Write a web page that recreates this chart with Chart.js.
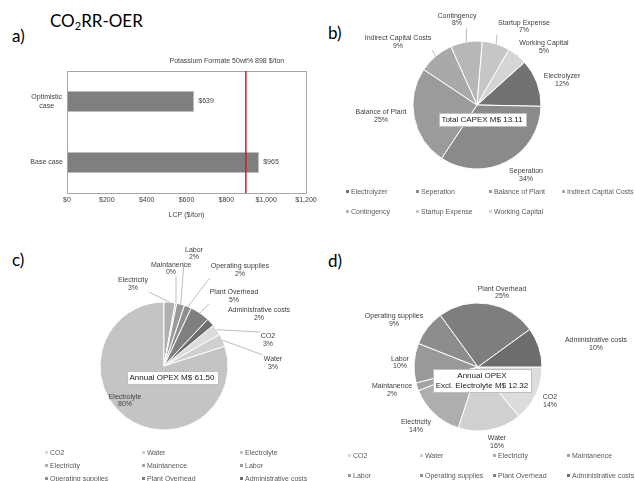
<!DOCTYPE html>
<html>
<head>
<meta charset="utf-8">
<script src="https://cdn.jsdelivr.net/npm/chart.js@4.4.1/dist/chart.umd.min.js"></script>
<style>
  html, body { margin: 0; padding: 0; background: #fff; }
  body { width: 635px; height: 481px; position: relative; overflow: hidden; font-family: 'Liberation Sans', Arial, sans-serif; }
  canvas { position: absolute; }
  .tag { position: absolute; font-family: Lato, 'Open Sans', sans-serif; font-size: 17px; color: #000; line-height: 1; white-space: nowrap; }
  .tag sub { font-size: 11px; vertical-align: -3px; line-height: 0; }
  .legend { position: absolute; font-size: 7px; line-height: 8px; color: #595959; white-space: nowrap; }
  .legend i { display: inline-block; width: 3px; height: 3px; margin-right: 2px; vertical-align: 1px; }
</style>
</head>
<body>
<div class="tag" style="left:50px;top:12px">CO<sub>2</sub>RR-OER</div>
<div class="tag" style="left:12px;top:27px">a)</div>
<div class="tag" style="left:328px;top:24px">b)</div>
<div class="tag" style="left:12px;top:251px">c)</div>
<div class="tag" style="left:328px;top:252px">d)</div>

<canvas id="lcpChart" width="320" height="180" style="left:0;top:45px"></canvas>
<canvas id="capexChart" width="315" height="230" style="left:320px;top:0"></canvas>
<canvas id="opexChart" width="320" height="251" style="left:0;top:230px"></canvas>
<canvas id="opexExclChart" width="315" height="251" style="left:320px;top:230px"></canvas>

<script>
// ---- data ----
const caseLabels = [['Optimistic', 'case'], 'Base case'];
const lcpValues = [639, 965];
const marketPrice = 898;
const marketLabel = 'Potassium Formate 50wt% 898 $/ton';

const capexLabels = ['Electrolyzer', 'Seperation', 'Balance of Plant', 'Indirect Capital Costs',
    'Contingency', 'Startup Expense', 'Working Capital'];
const capexShares = [12, 34, 25, 9, 8, 7, 5];
const capexTotal = 'Total CAPEX M$ 13.11';

const opexLabels = ['CO2', 'Water', 'Electrolyte', 'Electricity', 'Maintanence', 'Labor',
    'Operating supplies', 'Plant Overhead', 'Administrative costs'];
const opexShares = [2.8, 3.2, 80, 2.8, 0.4, 2.0, 1.8, 5.0, 2.0];
const opexTotal = 'Annual OPEX M$ 61.50';

const opexExclLabels = ['CO2', 'Water', 'Electricity', 'Maintanence', 'Labor',
    'Operating supplies', 'Plant Overhead', 'Administrative costs'];
const opexExclShares = [14, 16, 14, 2, 10, 9, 25, 10];
const opexExclTotal = ['Annual OPEX', 'Excl. Electrolyte M$ 12.32'];

// ---- styles ----
const capexColors = ['#727272', '#8a8a8a', '#9b9b9b', '#a9a9a9', '#b7b7b7', '#c6c6c6', '#d5d5d5'];
const opexColors = ['#dcdcdc', '#d0d0d0', '#c4c4c4', '#b0b0b0', '#a5a5a5', '#9a9a9a', '#8e8e8e', '#7f7f7f', '#6d6d6d'];
const opexExclColors = ['#dcdcdc', '#d0d0d0', '#aeaeae', '#a3a3a3', '#999999', '#8d8d8d', '#7e7e7e', '#6d6d6d'];

const FONT = '"Liberation Sans", Arial, sans-serif';
const TEXT = '#404040';
Chart.defaults.font.family = FONT;
Chart.defaults.font.size = 7;
Chart.defaults.color = TEXT;
Chart.defaults.animation = false;

// ---- panel a: bar chart ----
const barExtras = {
    id: 'barExtras',
    afterDatasetsDraw(chart) {
        const { ctx, chartArea: a, scales: { x } } = chart;
        ctx.save();
        ctx.strokeStyle = '#a6a6a6';
        ctx.lineWidth = 1;
        ctx.strokeRect(a.left + 0.5, a.top + 0.5, a.width, a.height);

        const px = x.getPixelForValue(marketPrice);
        ctx.strokeStyle = '#e0141e';
        ctx.lineWidth = 1.5;
        ctx.beginPath();
        ctx.moveTo(px, a.top);
        ctx.lineTo(px, a.bottom);
        ctx.stroke();

        ctx.font = '7px ' + FONT;
        ctx.fillStyle = TEXT;
        ctx.textBaseline = 'middle';
        ctx.textAlign = 'center';
        ctx.fillText(marketLabel, px - 19, a.top - 10);

        ctx.textAlign = 'left';
        chart.getDatasetMeta(0).data.forEach((bar, i) => {
            ctx.fillText('$' + lcpValues[i], bar.x + 4, bar.y);
        });
        ctx.restore();
    }
};

new Chart(document.getElementById('lcpChart'), {
    type: 'bar',
    data: {
        labels: caseLabels,
        datasets: [{
            data: lcpValues,
            backgroundColor: '#7f7f7f',
            borderColor: '#c4c4c4',
            borderWidth: 1,
            barPercentage: 0.35,
            categoryPercentage: 1
        }]
    },
    options: {
        indexAxis: 'y',
        responsive: false,
        layout: { padding: { left: 0, right: 14, top: 26, bottom: 0 } },
        plugins: { legend: { display: false }, tooltip: { enabled: false } },
        scales: {
            x: {
                min: 0,
                max: 1200,
                ticks: {
                    stepSize: 200,
                    padding: 3,
                    callback: v => '$' + v.toLocaleString('en-US')
                },
                grid: { display: false, drawTicks: false },
                border: { display: false },
                title: { display: true, text: 'LCP ($/ton)', padding: { top: 0, bottom: 6 } },
                afterFit(s) { s.height = 32; }
            },
            y: {
                ticks: { crossAlign: 'center', padding: 4 },
                grid: { display: false, drawTicks: false },
                border: { display: false },
                afterFit(s) { s.width = 67; }
            }
        }
    },
    plugins: [barExtras]
});

// ---- pie helpers ----
// slice label placement, page coordinates [x, y, leader line]
const capexLabelPos = [[562, 80, 0], [526, 175, 0], [381, 116, 0], [398, 42, 1],
    [457, 19.5, 1], [524, 26.5, 1], [544, 47, 1]];
const opexLabelPos = [[268, 340, 1], [273, 363, 1], [125, 400.5, 0], [133, 284, 1], [171, 268.5, 1],
    [194, 253.5, 1], [240, 270, 1], [234, 296, 1], [259, 314, 0]];
const opexExclLabelPos = [[550, 401, 0], [497, 442, 0], [416, 426, 0], [392, 390, 0],
    [400, 362.5, 0], [394, 320, 0], [502, 292.5, 0], [596, 344, 0]];

function sliceLabels(pos, ox, oy) {
    return {
        id: 'sliceLabels',
        afterDatasetsDraw(chart) {
            const ctx = chart.ctx;
            const values = chart.data.datasets[0].data;
            const total = values.reduce((a, b) => a + b, 0);
            ctx.save();
            ctx.font = '7px ' + FONT;
            ctx.textAlign = 'center';
            ctx.textBaseline = 'middle';
            chart.getDatasetMeta(0).data.forEach((arc, i) => {
                const p = pos[i];
                const x = p[0] - ox, y = p[1] - oy;
                const lines = [chart.data.labels[i], Math.round(values[i] / total * 100) + '%'];
                if (p[2]) {
                    const { x: cx, y: cy, startAngle, endAngle, outerRadius } =
                        arc.getProps(['x', 'y', 'startAngle', 'endAngle', 'outerRadius'], true);
                    const mid = (startAngle + endAngle) / 2;
                    const ax = cx + Math.cos(mid) * outerRadius;
                    const ay = cy + Math.sin(mid) * outerRadius;
                    const hw = Math.max(...lines.map(t => ctx.measureText(t).width)) / 2 + 1;
                    const hh = 8;
                    const lx = Math.min(Math.max(ax, x - hw), x + hw);
                    const ly = Math.min(Math.max(ay, y - hh), y + hh);
                    ctx.strokeStyle = '#a6a6a6';
                    ctx.lineWidth = 0.75;
                    ctx.beginPath();
                    ctx.moveTo(lx, ly);
                    ctx.lineTo(ax, ay);
                    ctx.stroke();
                }
                ctx.fillStyle = TEXT;
                ctx.fillText(lines[0], x, y - 3.75);
                ctx.fillText(lines[1], x, y + 3.75);
            });
            ctx.restore();
        }
    };
}

function centerBox(lines, bx, by, ox, oy) {
    return {
        id: 'centerBox',
        afterDraw(chart) {
            const ctx = chart.ctx;
            ctx.save();
            ctx.font = '8px ' + FONT;
            const lh = 10.5;
            const w = Math.round(Math.max(...lines.map(t => ctx.measureText(t).width)) + 6);
            const h = Math.round(lines.length * lh + 2);
            const x = Math.round(bx - ox - w / 2), y = Math.round(by - oy - h / 2);
            ctx.fillStyle = '#ffffff';
            ctx.fillRect(x, y, w, h);
            ctx.strokeStyle = '#bfbfbf';
            ctx.lineWidth = 1;
            ctx.strokeRect(x + 0.5, y + 0.5, w, h);
            ctx.fillStyle = '#1a1a1a';
            ctx.textAlign = 'center';
            ctx.textBaseline = 'middle';
            lines.forEach((t, i) => ctx.fillText(t, bx - ox, y + 1.5 + lh * (i + 0.5)));
            ctx.restore();
        }
    };
}

function makePie(id, labels, values, colors, rotation, center, radius, ox, oy, labelPos, boxLines, boxAt) {
    const cv = document.getElementById(id);
    const cx = center[0] - ox, cy = center[1] - oy;
    return new Chart(cv, {
        type: 'pie',
        data: {
            labels: labels,
            datasets: [{ data: values, backgroundColor: colors, borderColor: '#ffffff', borderWidth: 1 }]
        },
        options: {
            responsive: false,
            rotation: rotation,
            radius: radius,
            layout: {
                padding: {
                    left: cx - radius, right: cv.width - cx - radius,
                    top: cy - radius, bottom: cv.height - cy - radius
                }
            },
            plugins: { legend: { display: false }, tooltip: { enabled: false } }
        },
        plugins: [sliceLabels(labelPos, ox, oy), centerBox(boxLines, boxAt[0], boxAt[1], ox, oy)]
    });
}

makePie('capexChart', capexLabels, capexShares, capexColors, 48, [477, 105], 64, 320, 0,
    capexLabelPos, [capexTotal], [482, 119]);
makePie('opexChart', opexLabels, opexShares, opexColors, 50.4, [164, 366], 64, 0, 230,
    opexLabelPos, [opexTotal], [172, 377]);
makePie('opexExclChart', opexExclLabels, opexExclShares, opexExclColors, 90, [478, 367], 64, 320, 230,
    opexExclLabelPos, opexExclTotal, [482, 380]);

// ---- html legends ----
function buildLegend(labels, colors, cols, rows) {
    labels.forEach((name, i) => {
        const el = document.createElement('div');
        el.className = 'legend';
        el.style.left = cols[i % cols.length] + 'px';
        el.style.top = (rows[Math.floor(i / cols.length)] - 4) + 'px';
        el.innerHTML = '<i style="background:' + colors[i] + '"></i>' + name;
        document.body.appendChild(el);
    });
}

buildLegend(capexLabels, capexColors, [346, 416, 489, 562], [192, 212]);
buildLegend(opexLabels, opexColors, [45, 142, 240], [453, 466, 479]);
buildLegend(opexExclLabels, opexExclColors, [348, 420, 493, 567], [456, 476]);
</script>
</body>
</html>
